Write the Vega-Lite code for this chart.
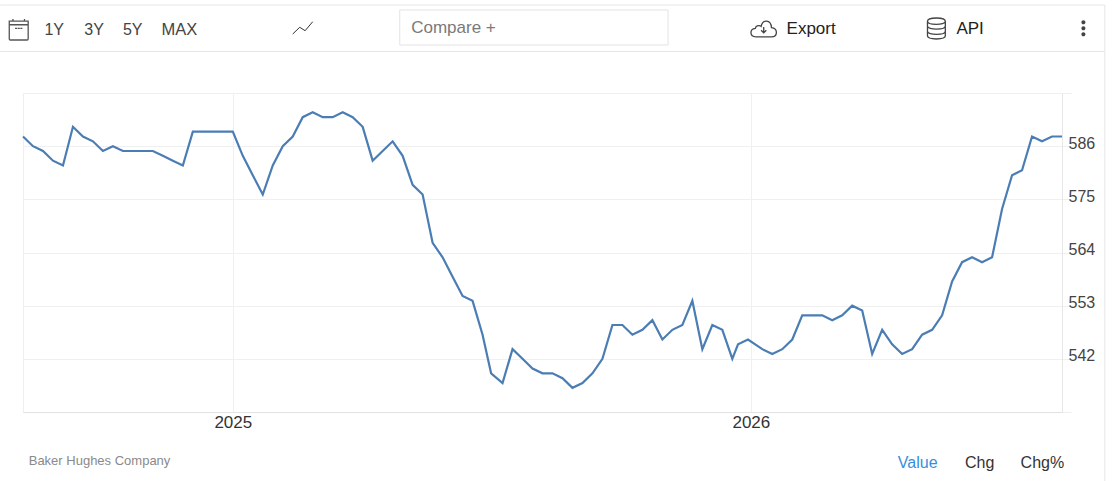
{
  "$schema": "https://vega.github.io/schema/vega-lite/v6.json",
  "description": "US rig count, weekly, Baker Hughes Company",
  "width": 1039,
  "height": 319,
  "autosize": "none",
  "padding": {"left": 23, "top": 93, "right": 50, "bottom": 69},
  "background": "white",
  "view": {"stroke": "#efefef"},
  "config": {"text": {"font": "Liberation Sans", "baseline": "middle", "align": "left"}},
  "data": {"values": [{}]},
  "datasets": {
    "rigs": [
      {"date": "2024-08-09", "value": 588}, {"date": "2024-08-16", "value": 586}, {"date": "2024-08-23", "value": 585},
      {"date": "2024-08-30", "value": 583}, {"date": "2024-09-06", "value": 582}, {"date": "2024-09-13", "value": 590},
      {"date": "2024-09-20", "value": 588}, {"date": "2024-09-27", "value": 587}, {"date": "2024-10-04", "value": 585},
      {"date": "2024-10-11", "value": 586}, {"date": "2024-10-18", "value": 585}, {"date": "2024-10-25", "value": 585},
      {"date": "2024-11-01", "value": 585}, {"date": "2024-11-08", "value": 585}, {"date": "2024-11-15", "value": 584},
      {"date": "2024-11-22", "value": 583}, {"date": "2024-11-29", "value": 582}, {"date": "2024-12-06", "value": 589},
      {"date": "2024-12-13", "value": 589}, {"date": "2024-12-20", "value": 589}, {"date": "2024-12-27", "value": 589},
      {"date": "2025-01-03", "value": 589}, {"date": "2025-01-10", "value": 584}, {"date": "2025-01-17", "value": 580},
      {"date": "2025-01-24", "value": 576}, {"date": "2025-01-31", "value": 582}, {"date": "2025-02-07", "value": 586},
      {"date": "2025-02-14", "value": 588}, {"date": "2025-02-21", "value": 592}, {"date": "2025-02-28", "value": 593},
      {"date": "2025-03-07", "value": 592}, {"date": "2025-03-14", "value": 592}, {"date": "2025-03-21", "value": 593},
      {"date": "2025-03-28", "value": 592}, {"date": "2025-04-04", "value": 590}, {"date": "2025-04-11", "value": 583},
      {"date": "2025-04-18", "value": 585}, {"date": "2025-04-25", "value": 587}, {"date": "2025-05-02", "value": 584},
      {"date": "2025-05-09", "value": 578}, {"date": "2025-05-16", "value": 576}, {"date": "2025-05-23", "value": 566},
      {"date": "2025-05-30", "value": 563}, {"date": "2025-06-06", "value": 559}, {"date": "2025-06-13", "value": 555},
      {"date": "2025-06-20", "value": 554}, {"date": "2025-06-27", "value": 547}, {"date": "2025-07-03", "value": 539},
      {"date": "2025-07-11", "value": 537}, {"date": "2025-07-18", "value": 544}, {"date": "2025-07-25", "value": 542},
      {"date": "2025-08-01", "value": 540}, {"date": "2025-08-08", "value": 539}, {"date": "2025-08-15", "value": 539},
      {"date": "2025-08-22", "value": 538}, {"date": "2025-08-29", "value": 536}, {"date": "2025-09-05", "value": 537},
      {"date": "2025-09-12", "value": 539}, {"date": "2025-09-19", "value": 542}, {"date": "2025-09-26", "value": 549},
      {"date": "2025-10-03", "value": 549}, {"date": "2025-10-10", "value": 547}, {"date": "2025-10-17", "value": 548},
      {"date": "2025-10-24", "value": 550}, {"date": "2025-10-31", "value": 546}, {"date": "2025-11-07", "value": 548},
      {"date": "2025-11-14", "value": 549}, {"date": "2025-11-21", "value": 554}, {"date": "2025-11-28", "value": 544},
      {"date": "2025-12-05", "value": 549}, {"date": "2025-12-12", "value": 548}, {"date": "2025-12-19", "value": 542},
      {"date": "2025-12-23", "value": 545}, {"date": "2025-12-30", "value": 546}, {"date": "2026-01-09", "value": 544},
      {"date": "2026-01-16", "value": 543}, {"date": "2026-01-23", "value": 544}, {"date": "2026-01-30", "value": 546},
      {"date": "2026-02-06", "value": 551}, {"date": "2026-02-13", "value": 551}, {"date": "2026-02-20", "value": 551},
      {"date": "2026-02-27", "value": 550}, {"date": "2026-03-06", "value": 551}, {"date": "2026-03-13", "value": 553},
      {"date": "2026-03-20", "value": 552}, {"date": "2026-03-27", "value": 543}, {"date": "2026-04-03", "value": 548},
      {"date": "2026-04-10", "value": 545}, {"date": "2026-04-17", "value": 543}, {"date": "2026-04-24", "value": 544},
      {"date": "2026-05-01", "value": 547}, {"date": "2026-05-08", "value": 548}, {"date": "2026-05-15", "value": 551},
      {"date": "2026-05-22", "value": 558}, {"date": "2026-05-29", "value": 562}, {"date": "2026-06-05", "value": 563},
      {"date": "2026-06-12", "value": 562}, {"date": "2026-06-19", "value": 563}, {"date": "2026-06-26", "value": 573},
      {"date": "2026-07-03", "value": 580}, {"date": "2026-07-10", "value": 581}, {"date": "2026-07-17", "value": 588},
      {"date": "2026-07-24", "value": 587}, {"date": "2026-07-31", "value": 588}, {"date": "2026-08-07", "value": 588}
    ]
  },
  "layer": [
    {
      "data": {"name": "rigs"},
      "mark": {"type": "line", "color": "#4b7db5", "strokeWidth": 2.2, "strokeJoin": "miter"},
      "encoding": {
        "x": {
          "field": "date",
          "type": "temporal",
          "title": null,
          "scale": {"type": "utc", "domain": ["2024-08-09", "2026-08-07"]},
          "axis": {
            "values": ["2025-01-03", "2026-01-01"],
            "format": "%Y",
            "grid": true,
            "gridColor": "#f0f0f0",
            "ticks": false,
            "domainColor": "#e2e2e2",
            "labelFont": "Liberation Sans",
            "labelFontSize": 17,
            "labelColor": "#333333",
            "labelPadding": 2,
            "labelFlush": false
          }
        },
        "y": {
          "field": "value",
          "type": "quantitative",
          "title": null,
          "scale": {"domain": [531, 597], "nice": false, "zero": false},
          "axis": {
            "orient": "right",
            "values": [531, 542, 553, 564, 575, 586, 597],
            "labelExpr": "datum.value == 531 || datum.value == 597 ? '' : datum.label",
            "grid": true,
            "gridColor": "#f0f0f0",
            "tickColor": "#efefef",
            "tickSize": 9,
            "domainColor": "#e6e6e6",
            "labelFont": "Liberation Sans",
            "labelFontSize": 16,
            "labelColor": "#444444",
            "labelPadding": -3,
            "labelOffset": -3
          }
        }
      }
    },
    {
      "mark": {"type": "rule", "color": "#e6e6e6"},
      "encoding": {
        "x": {"datum": {"year": 2024, "month": 7, "date": 24, "utc": true}, "type": "temporal"},
        "x2": {"datum": {"year": 2026, "month": 9, "date": 6, "utc": true}},
        "y": {"datum": 615.2}
      }
    },
    {
      "mark": {"type": "rule", "color": "#e6e6e6"},
      "encoding": {
        "x": {"datum": {"year": 2024, "month": 7, "date": 24, "utc": true}, "type": "temporal"},
        "x2": {"datum": {"year": 2026, "month": 9, "date": 6, "utc": true}},
        "y": {"datum": 605.6}
      }
    },
    {
      "mark": {"type": "rule", "color": "#e6e6e6"},
      "encoding": {
        "x": {"datum": {"year": 2026, "month": 9, "date": 6, "utc": true}, "type": "temporal"},
        "y": {"datum": 615.2},
        "y2": {"datum": 516.7}
      }
    },
    {
      "mark": {"type": "rect", "fill": "white", "stroke": "#e3e3e3"},
      "encoding": {
        "x": {"datum": {"year": 2025, "month": 4, "date": 30, "utc": true}, "type": "temporal"},
        "x2": {"datum": {"year": 2025, "month": 11, "date": 4, "utc": true}},
        "y": {"datum": 614.17},
        "y2": {"datum": 606.93}
      }
    },
    {
      "mark": {
        "type": "point",
        "shape": "M-0.9,-0.8H0.9V0.9Q0.9,1 0.8,1H-0.8Q-0.9,1 -0.9,0.9Z M-0.9,-0.45H0.9 M-0.55,-1V-0.8 M0.55,-1V-0.8 M-0.35,-0.1H-0.15 M-0.1,-0.1H0.1 M0.15,-0.1H0.35",
        "size": 441,
        "filled": false,
        "stroke": "#555555",
        "strokeWidth": 1.3,
        "opacity": 1
      },
      "encoding": {
        "x": {"datum": {"year": 2024, "month": 8, "date": 6, "utc": true}, "type": "temporal"},
        "y": {"datum": 610.14}
      }
    },
    {
      "mark": {
        "type": "point",
        "shape": "M-1,0.6L-0.3,-0.07L0.24,0.27L1,-0.63",
        "size": 400,
        "filled": false,
        "stroke": "#333333",
        "strokeWidth": 1,
        "opacity": 1
      },
      "encoding": {
        "x": {"datum": {"year": 2025, "month": 2, "date": 21, "utc": true}, "type": "temporal"},
        "y": {"datum": 610.45}
      }
    },
    {
      "mark": {
        "type": "point",
        "shape": "M-0.6,0.6C-1.1,0.6 -1.1,0 -0.65,-0.05C-0.6,-0.3 -0.3,-0.3 -0.2,-0.2C-0.1,-0.75 0.55,-0.75 0.6,-0.1C1.1,-0.05 1.1,0.6 0.6,0.6Z M0,-0.15V0.3 M-0.2,0.1L0,0.3L0.2,0.1",
        "size": 676,
        "filled": false,
        "stroke": "#444444",
        "strokeWidth": 1.3,
        "opacity": 1
      },
      "encoding": {
        "x": {"datum": {"year": 2026, "month": 1, "date": 10, "utc": true}, "type": "temporal"},
        "y": {"datum": 610.24}
      }
    },
    {
      "mark": {
        "type": "point",
        "shape": "M-0.85,-0.7C-0.85,-1.1 0.85,-1.1 0.85,-0.7C0.85,-0.3 -0.85,-0.3 -0.85,-0.7Z M-0.85,-0.7V0.7C-0.85,1.1 0.85,1.1 0.85,0.7V-0.7 M-0.85,-0.25C-0.85,0.15 0.85,0.15 0.85,-0.25 M-0.85,0.25C-0.85,0.65 0.85,0.65 0.85,0.25",
        "size": 441,
        "filled": false,
        "stroke": "#444444",
        "strokeWidth": 1.3,
        "opacity": 1
      },
      "encoding": {
        "x": {"datum": {"year": 2026, "month": 5, "date": 11, "utc": true}, "type": "temporal"},
        "y": {"datum": 610.34}
      }
    },
    {
      "mark": {
        "type": "point",
        "shape": "M-0.17,-0.5A0.17,0.17 0 1 0 0.17,-0.5A0.17,0.17 0 1 0 -0.17,-0.5Z M-0.17,0A0.17,0.17 0 1 0 0.17,0A0.17,0.17 0 1 0 -0.17,0Z M-0.17,0.5A0.17,0.17 0 1 0 0.17,0.5A0.17,0.17 0 1 0 -0.17,0.5Z",
        "size": 576,
        "filled": true,
        "fill": "#444444",
        "opacity": 1
      },
      "encoding": {
        "x": {"datum": {"year": 2026, "month": 8, "date": 22, "utc": true}, "type": "temporal"},
        "y": {"datum": 610.39}
      }
    },
    {
      "mark": {"type": "text", "text": "1Y", "fontSize": 16, "color": "#444444"},
      "encoding": {"x": {"datum": {"year": 2024, "month": 8, "date": 24, "utc": true}, "type": "temporal"}, "y": {"datum": 609.95}}
    },
    {
      "mark": {"type": "text", "text": "3Y", "fontSize": 16, "color": "#444444"},
      "encoding": {"x": {"datum": {"year": 2024, "month": 9, "date": 21, "utc": true}, "type": "temporal"}, "y": {"datum": 609.95}}
    },
    {
      "mark": {"type": "text", "text": "5Y", "fontSize": 16, "color": "#444444"},
      "encoding": {"x": {"datum": {"year": 2024, "month": 10, "date": 18, "utc": true}, "type": "temporal"}, "y": {"datum": 609.95}}
    },
    {
      "mark": {"type": "text", "text": "MAX", "fontSize": 16.5, "color": "#444444"},
      "encoding": {"x": {"datum": {"year": 2024, "month": 11, "date": 14, "utc": true}, "type": "temporal"}, "y": {"datum": 609.95}}
    },
    {
      "mark": {"type": "text", "text": "Compare +", "fontSize": 17, "color": "#7a7a7a"},
      "encoding": {"x": {"datum": {"year": 2025, "month": 5, "date": 8, "utc": true}, "type": "temporal"}, "y": {"datum": 610.46}}
    },
    {
      "mark": {"type": "text", "text": "Export", "fontSize": 17, "color": "#222222"},
      "encoding": {"x": {"datum": {"year": 2026, "month": 1, "date": 26, "utc": true}, "type": "temporal"}, "y": {"datum": 610.25}}
    },
    {
      "mark": {"type": "text", "text": "API", "fontSize": 17, "color": "#222222"},
      "encoding": {"x": {"datum": {"year": 2026, "month": 5, "date": 25, "utc": true}, "type": "temporal"}, "y": {"datum": 610.25}}
    },
    {
      "mark": {"type": "text", "text": "Baker Hughes Company", "fontSize": 13, "color": "#8a8a8a"},
      "encoding": {"x": {"datum": {"year": 2024, "month": 8, "date": 13, "utc": true}, "type": "temporal"}, "y": {"datum": 520.86}}
    },
    {
      "mark": {"type": "text", "text": "Value", "fontSize": 16, "color": "#3a8dde"},
      "encoding": {"x": {"datum": {"year": 2026, "month": 4, "date": 14, "utc": true}, "type": "temporal"}, "y": {"datum": 520.55}}
    },
    {
      "mark": {"type": "text", "text": "Chg", "fontSize": 16, "color": "#333333"},
      "encoding": {"x": {"datum": {"year": 2026, "month": 5, "date": 31, "utc": true}, "type": "temporal"}, "y": {"datum": 520.55}}
    },
    {
      "mark": {"type": "text", "text": "Chg%", "fontSize": 16, "color": "#333333"},
      "encoding": {"x": {"datum": {"year": 2026, "month": 7, "date": 9, "utc": true}, "type": "temporal"}, "y": {"datum": 520.55}}
    }
  ]
}
